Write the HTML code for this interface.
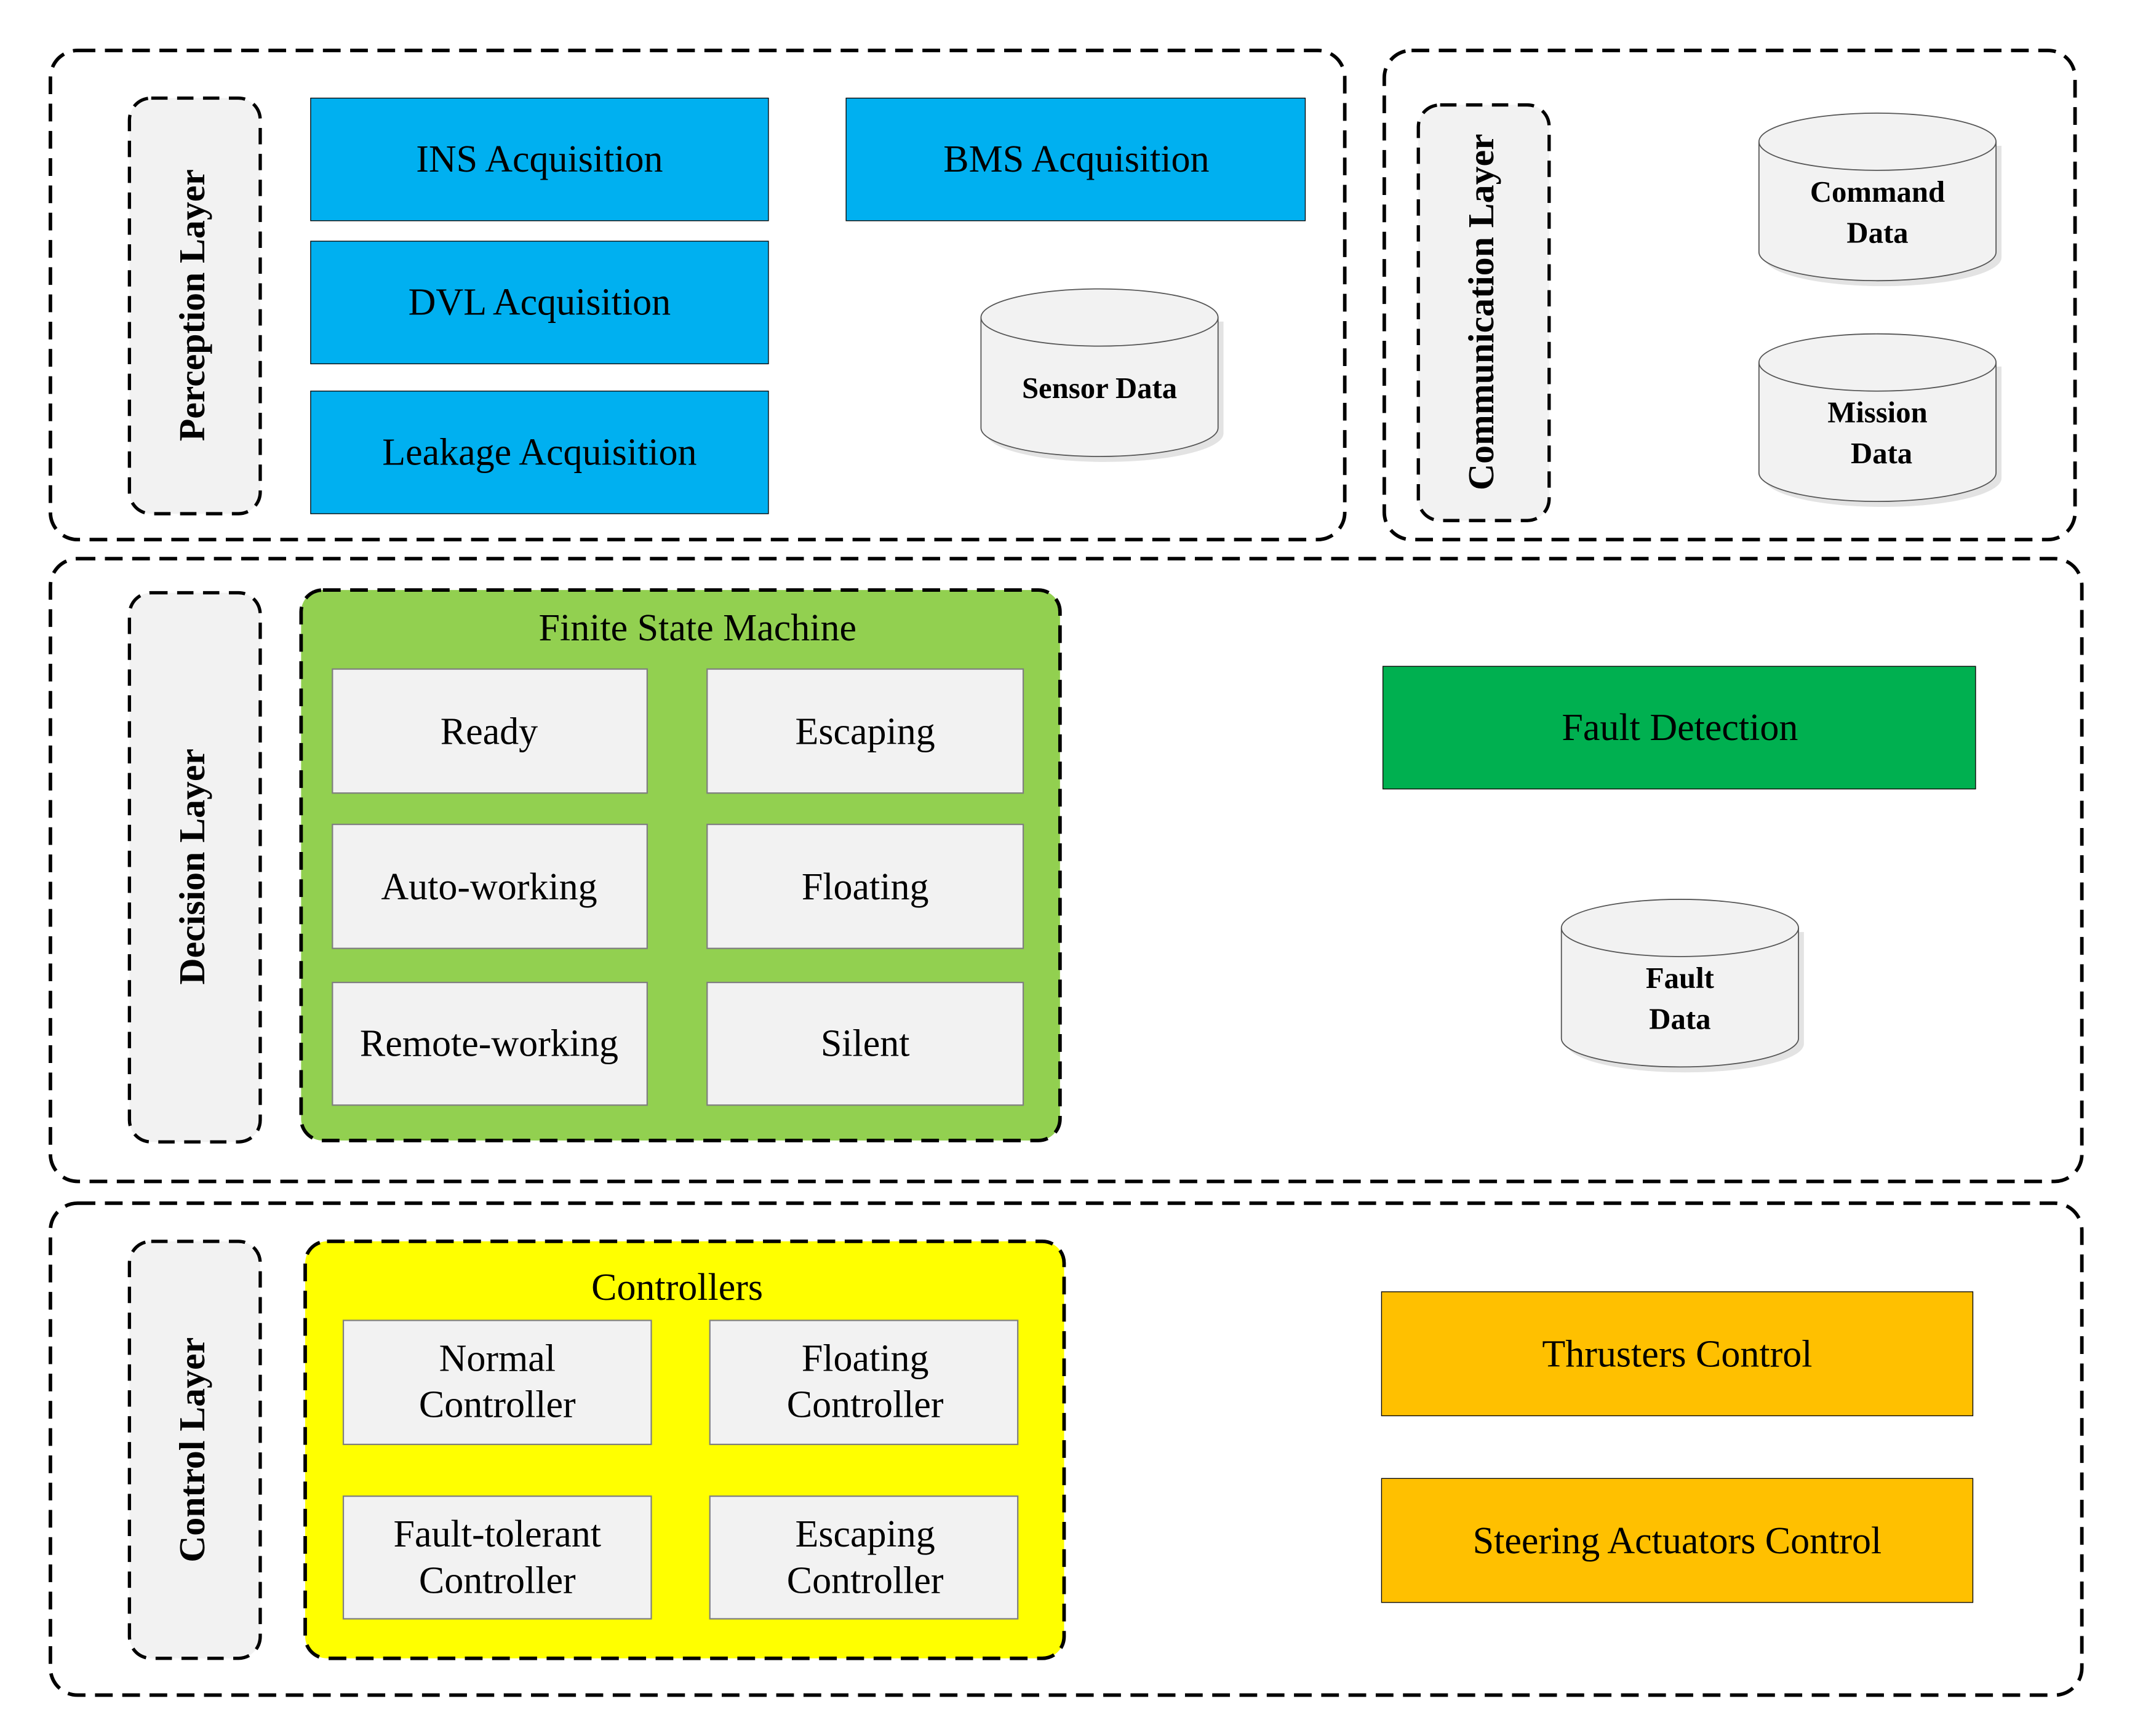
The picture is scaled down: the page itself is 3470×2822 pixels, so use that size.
<!DOCTYPE html>
<html><head><meta charset="utf-8"><style>
html,body{margin:0;padding:0;background:#fff}
svg{display:block}
text{font-family:"Liberation Serif",serif;fill:#000}
.b{font-size:28px;text-anchor:middle}
.lab{font-size:27px;font-weight:bold;text-anchor:middle}
.cy{font-size:22px;font-weight:bold;text-anchor:middle}
.d{fill:none;stroke:#000;stroke-width:2.6;stroke-dasharray:13 7}
.dl{fill:#f2f2f2;stroke:#000;stroke-width:2.4;stroke-dasharray:12 7}
.s{fill:#f2f2f2;stroke:#7f7f7f;stroke-width:1}
</style></head><body>
<svg width="3470" height="2822" viewBox="0 0 1567 1274" preserveAspectRatio="none" xmlns="http://www.w3.org/2000/svg">
<defs>
<g id="cyl">
<path d="M4 24 L4 106 A87 21 0 0 0 178 106 L178 24 Z" fill="#e3e3e3"/>
<path d="M0 21 L0 102 A87 21 0 0 0 174 102 L174 21 A87 21 0 0 0 0 21 Z" fill="#f2f2f2" stroke="#555" stroke-width="0.8"/>
<path d="M0 21 A87 21 0 0 0 174 21" fill="none" stroke="#555" stroke-width="0.8"/>
</g>
</defs>
<!-- Perception -->
<rect class="d" x="37" y="37" width="950" height="359" rx="20"/>
<rect class="dl" x="95" y="72" width="96" height="305" rx="16"/>
<text class="lab" transform="translate(150,224) rotate(-90)">Perception Layer</text>
<rect x="228" y="72" width="336" height="90" fill="#00b0f0" stroke="#000" stroke-width="0.6"/>
<text class="b" x="396" y="126">INS Acquisition</text>
<rect x="228" y="177" width="336" height="90" fill="#00b0f0" stroke="#000" stroke-width="0.6"/>
<text class="b" x="396" y="231">DVL Acquisition</text>
<rect x="228" y="287" width="336" height="90" fill="#00b0f0" stroke="#000" stroke-width="0.6"/>
<text class="b" x="396" y="341">Leakage Acquisition</text>
<rect x="621" y="72" width="337" height="90" fill="#00b0f0" stroke="#000" stroke-width="0.6"/>
<text class="b" x="790" y="126">BMS Acquisition</text>
<use href="#cyl" x="720" y="212"/>
<text class="cy" x="807" y="292">Sensor Data</text>
<!-- Communication -->
<rect class="d" x="1016" y="37" width="507" height="359" rx="20"/>
<rect class="dl" x="1041" y="77" width="96" height="305" rx="16"/>
<text class="lab" transform="translate(1096,229) rotate(-90)">Communication Layer</text>
<use href="#cyl" x="1291" y="83"/>
<text class="cy" x="1378" y="148">Command</text>
<text class="cy" x="1378" y="178">Data</text>
<use href="#cyl" x="1291" y="245"/>
<text class="cy" x="1378" y="310">Mission</text>
<text class="cy" x="1381" y="340">Data</text>
<!-- Decision -->
<rect class="d" x="37" y="410" width="1491" height="457" rx="20"/>
<rect class="dl" x="95" y="435" width="96" height="403" rx="16"/>
<text class="lab" transform="translate(150,636) rotate(-90)">Decision Layer</text>
<rect x="221" y="433" width="557" height="404" rx="16" fill="#92d050" stroke="#000" stroke-width="2.6" stroke-dasharray="13 7"/>
<text class="b" x="512" y="470">Finite State Machine</text>
<rect class="s" x="244" y="491" width="231" height="91"/><text class="b" x="359" y="546">Ready</text>
<rect class="s" x="519" y="491" width="232" height="91"/><text class="b" x="635" y="546">Escaping</text>
<rect class="s" x="244" y="605" width="231" height="91"/><text class="b" x="359" y="660">Auto-working</text>
<rect class="s" x="519" y="605" width="232" height="91"/><text class="b" x="635" y="660">Floating</text>
<rect class="s" x="244" y="721" width="231" height="90"/><text class="b" x="359" y="775">Remote-working</text>
<rect class="s" x="519" y="721" width="232" height="90"/><text class="b" x="635" y="775">Silent</text>
<rect x="1015" y="489" width="435" height="90" fill="#00b050" stroke="#000" stroke-width="0.6"/>
<text class="b" x="1233" y="543">Fault Detection</text>
<use href="#cyl" x="1146" y="660"/>
<text class="cy" x="1233" y="725">Fault</text>
<text class="cy" x="1233" y="755">Data</text>
<!-- Control -->
<rect class="d" x="37" y="883" width="1491" height="361" rx="20"/>
<rect class="dl" x="95" y="911" width="96" height="306" rx="16"/>
<text class="lab" transform="translate(150,1064) rotate(-90)">Control Layer</text>
<rect x="224" y="911" width="557" height="306" rx="16" fill="#ffff00" stroke="#000" stroke-width="2.6" stroke-dasharray="13 7"/>
<text class="b" x="497" y="954">Controllers</text>
<rect class="s" x="252" y="969" width="226" height="91"/><text class="b" x="365" y="1006">Normal</text><text class="b" x="365" y="1040">Controller</text>
<rect class="s" x="521" y="969" width="226" height="91"/><text class="b" x="635" y="1006">Floating</text><text class="b" x="635" y="1040">Controller</text>
<rect class="s" x="252" y="1098" width="226" height="90"/><text class="b" x="365" y="1135">Fault-tolerant</text><text class="b" x="365" y="1169">Controller</text>
<rect class="s" x="521" y="1098" width="226" height="90"/><text class="b" x="635" y="1135">Escaping</text><text class="b" x="635" y="1169">Controller</text>
<rect x="1014" y="948" width="434" height="91" fill="#ffc000" stroke="#000" stroke-width="0.6"/>
<text class="b" x="1231" y="1003">Thrusters Control</text>
<rect x="1014" y="1085" width="434" height="91" fill="#ffc000" stroke="#000" stroke-width="0.6"/>
<text class="b" x="1231" y="1140">Steering Actuators Control</text>
</svg>
</body></html>
